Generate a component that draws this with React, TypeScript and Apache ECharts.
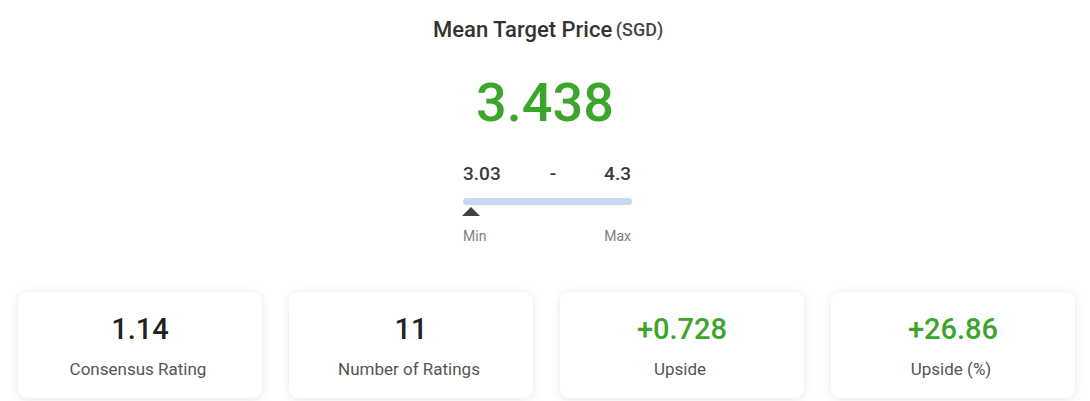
import React, { useEffect, useRef } from "react";
import * as echarts from "echarts";

const currency = "SGD";
const meanTarget = 3.438;
const lowTarget = 3.03;
const highTarget = 4.3;
const upside = 0.728;
const upsidePct = 26.86;
const consensusRating = 1.14;
const numberOfRatings = 11;
const currentPrice = +(meanTarget - upside).toFixed(3);

const cardLabels = ["Consensus Rating", "Number of Ratings", "Upside", "Upside (%)"];
const cardValues = [
  consensusRating.toFixed(2),
  String(numberOfRatings),
  "+" + upside.toFixed(3),
  "+" + upsidePct.toFixed(2),
];
const cardGreen = [false, false, true, true];

const GREEN = "#3ba52c";

export default function App() {
  const ref = useRef<HTMLDivElement>(null);
  useEffect(() => {
    document.body.style.margin = "0";
    const chart = echarts.init(ref.current!, null, { renderer: "svg" });
    const cardX = [18, 289, 560, 831];
    const cardW = 244;
    const cards: any[] = [];
    cardX.forEach((x, i) => {
      cards.push({
        type: "rect",
        shape: { x, y: 292, width: cardW, height: 106, r: 10 },
        style: {
          fill: "#fff",
          shadowBlur: 8,
          shadowColor: "rgba(0,0,0,0.10)",
          shadowOffsetY: 1,
        },
        z: 1,
      });
      cards.push({
        type: "text",
        x: x + cardW / 2,
        y: 329,
        z: 2,
        style: {
          text: cardValues[i],
          fontFamily: "Roboto",
          fontSize: 29,
          fontWeight: 500,
          fill: cardGreen[i] ? GREEN : "#222",
          align: "center",
          verticalAlign: "middle",
        },
      });
      cards.push({
        type: "text",
        x: x + cardW / 2 - 2,
        y: 369,
        z: 2,
        style: {
          text: cardLabels[i],
          fontFamily: "Roboto",
          fontSize: 17,
          fill: "#555",
          align: "center",
          verticalAlign: "middle",
        },
      });
    });

    const markerVal = Math.max(currentPrice, lowTarget);

    chart.setOption({
      animation: false,
      backgroundColor: "#fff",
      grid: { left: 463, width: 169, top: 194, height: 15 },
      xAxis: { type: "value", min: lowTarget, max: highTarget, show: false },
      yAxis: { type: "category", data: ["range"], show: false },
      series: [
        {
          type: "bar",
          stack: "r",
          data: [lowTarget],
          barWidth: 7,
          itemStyle: { color: "transparent" },
          silent: true,
        },
        {
          type: "bar",
          stack: "r",
          data: [+(highTarget - lowTarget).toFixed(3)],
          barWidth: 7,
          itemStyle: { color: "#c6d8f4", borderRadius: 4 },
          silent: true,
        },
        {
          type: "scatter",
          data: [[markerVal, "range"]],
          symbol: "triangle",
          symbolSize: [18, 9],
          symbolOffset: [8, 10],
          itemStyle: { color: "#111" },
          z: 5,
        },
      ],
      graphic: [
        {
          type: "text",
          x: 548,
          y: 29,
          style: {
            text: "{a|Mean Target Price} {b|(" + currency + ")}",
            align: "center",
            verticalAlign: "middle",
            rich: {
              a: { fontFamily: "Roboto", fontSize: 22, fontWeight: 500, fill: "#333" },
              b: { fontFamily: "Roboto", fontSize: 18, fontWeight: 500, fill: "#444" },
            },
          },
        },
        {
          type: "text",
          x: 545,
          y: 102,
          style: {
            text: meanTarget.toFixed(3),
            fontFamily: "Roboto",
            fontSize: 54,
            fontWeight: 500,
            fill: GREEN,
            align: "center",
            verticalAlign: "middle",
          },
        },
        {
          type: "text",
          x: 463,
          y: 173,
          style: {
            text: String(lowTarget),
            fontFamily: "Roboto",
            fontSize: 19,
            fontWeight: 500,
            fill: "#3a3a3a",
            align: "left",
            verticalAlign: "middle",
          },
        },
        {
          type: "text",
          x: 553,
          y: 173,
          style: {
            text: "-",
            fontFamily: "Roboto",
            fontSize: 19,
            fontWeight: 500,
            fill: "#3a3a3a",
            align: "center",
            verticalAlign: "middle",
          },
        },
        {
          type: "text",
          x: 631,
          y: 173,
          style: {
            text: String(highTarget),
            fontFamily: "Roboto",
            fontSize: 19,
            fontWeight: 500,
            fill: "#3a3a3a",
            align: "right",
            verticalAlign: "middle",
          },
        },
        {
          type: "text",
          x: 463,
          y: 236,
          style: {
            text: "Min",
            fontFamily: "Roboto",
            fontSize: 14,
            fill: "#808080",
            align: "left",
            verticalAlign: "middle",
          },
        },
        {
          type: "text",
          x: 631,
          y: 236,
          style: {
            text: "Max",
            fontFamily: "Roboto",
            fontSize: 14,
            fill: "#808080",
            align: "right",
            verticalAlign: "middle",
          },
        },
        ...cards,
      ],
    });
    return () => chart.dispose();
  }, []);
  return <div ref={ref} style={{ width: 1090, height: 401 }} />;
}
